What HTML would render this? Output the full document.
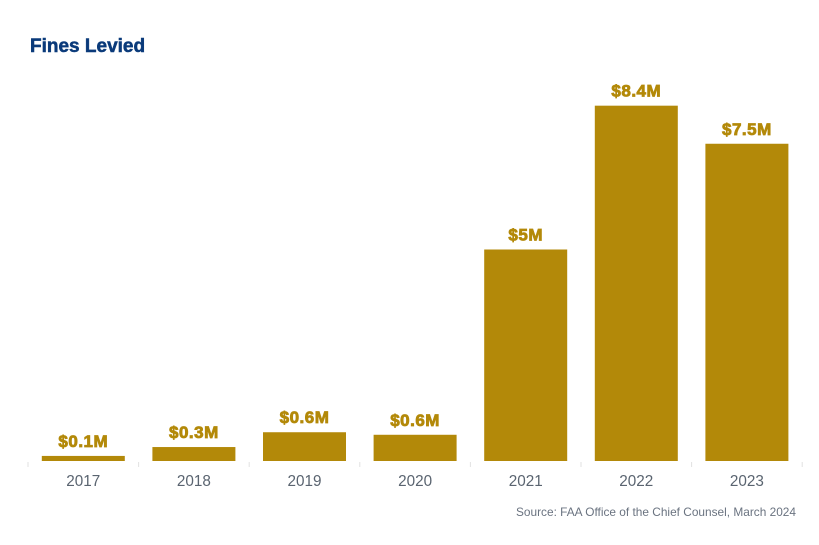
<!DOCTYPE html>
<html><head><meta charset="utf-8"><style>
body{margin:0;background:#fff;width:819px;height:540px;overflow:hidden;font-family:"Liberation Sans",sans-serif}
</style></head><body>
<svg id="chart" width="819" height="540" xmlns="http://www.w3.org/2000/svg">
<text x="30" y="52" font-family="Liberation Sans, sans-serif" font-weight="bold" font-size="19" fill="#0a3a7a" stroke="#0a3a7a" stroke-width="0.5">Fines Levied</text>
<g id="bars"></g>
<text x="796" y="516" text-anchor="end" font-family="Liberation Sans, sans-serif" font-size="12" fill="#6a7380" textLength="280" lengthAdjust="spacingAndGlyphs">Source: FAA Office of the Chief Counsel, March 2024</text>
</svg>
<script>
const categories=["2017","2018","2019","2020","2021","2022","2023"];
const values=[0.12,0.33,0.68,0.62,5,8.4,7.5];
const valueLabels=["$0.1M","$0.3M","$0.6M","$0.6M","$5M","$8.4M","$7.5M"];
const NS="http://www.w3.org/2000/svg";
const g=document.getElementById('bars');
const x0=28,step=110.6,barW=83,base=461,pxPer=42.3;
const xScale=i=>x0+i*step+(step-barW)/2;
const yScale=v=>base-v*pxPer;
function mk(t,a){const e=document.createElementNS(NS,t);for(const k in a)e.setAttribute(k,a[k]);g.appendChild(e);return e;}
for(let i=0;i<=categories.length;i++){
 const t=mk('line',{x1:x0+i*step,x2:x0+i*step,y1:base+1,y2:base+6,stroke:'#e2e2e2','stroke-width':1});
 
 
}
categories.forEach((c,i)=>{
 const x=xScale(i),y=yScale(values[i]);
 const r=mk('rect',{x:x,y:y,width:barW,height:base-y,fill:'#b38909'});
 
 
 const l=mk('text',{x:x+barW/2,y:y-9,'text-anchor':'middle','font-weight':'bold','font-size':17,fill:'#b38909',stroke:'#b38909','stroke-width':0.8,'letter-spacing':0.5,'font-family':'Liberation Sans, sans-serif'});
 l.textContent=valueLabels[i];
 
 
 const yl=mk('text',{x:x+barW/2,y:486,'text-anchor':'middle','font-size':16,fill:'#5a6470','font-family':'Liberation Sans, sans-serif',textLength:34,lengthAdjust:'spacingAndGlyphs'});
 yl.textContent=c;
 
 
});
</script>
</body></html>
